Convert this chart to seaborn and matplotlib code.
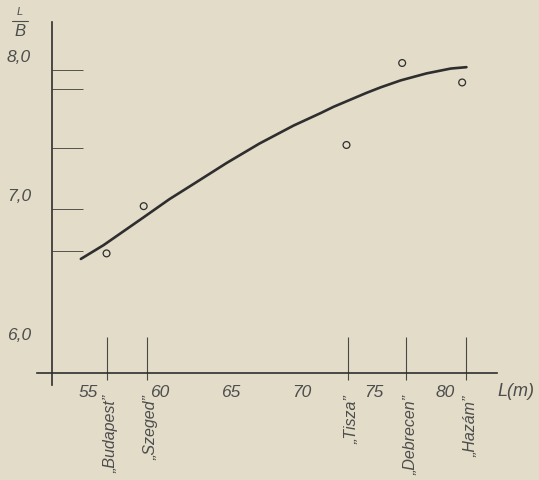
import matplotlib
matplotlib.use("Agg")
import matplotlib.pyplot as plt
import seaborn as sns
import pandas as pd

# ships (length L in m) and measured L/B ratios
ships = ["„Budapest”", "„Szeged”", "„Tisza”", "„Debrecen”", "„Hazám”"]
ship_len = [56.3, 59.1, 73.2, 77.3, 81.5]
point_len = [56.3, 58.9, 73.1, 77.0, 81.2]
point_ratio = [6.58, 6.92, 7.36, 7.95, 7.81]
ref_ratio = [6.60, 6.90, 7.34, 7.90, 7.76]

# fitted curve
curve_len = [54.5, 56.1, 58.9, 60.7, 62.4, 64.7, 67.0, 69.4, 71.3, 72.2,
             74.5, 75.5, 76.9, 78.7, 80.4, 81.5]
curve_ratio = [6.54, 6.64, 6.84, 6.97, 7.08, 7.23, 7.37, 7.50, 7.59, 7.635,
               7.735, 7.775, 7.825, 7.875, 7.91, 7.92]

x_ticks = [55, 60, 65, 70, 75, 80]
y_ticks = [6.0, 7.0, 8.0]
y_labels = ["6,0", "7,0", "8,0"]

paper = "#e2dcc9"
ink = "#2e2e2e"
txt = "#4d4d4d"

sns.set_style("white")
plt.rcParams["font.family"] = ["Liberation Sans", "DejaVu Sans"]

fig = plt.figure(figsize=(5.39, 4.80), dpi=100, facecolor=paper)
ax = fig.add_axes([37 / 539, 95 / 480, 460 / 539, 363 / 480])
ax.set_facecolor("none")

curve = pd.DataFrame({"L": curve_len, "LB": curve_ratio})
sns.lineplot(data=curve, x="L", y="LB", color=ink, linewidth=1.9,
             estimator=None, ax=ax)

pts = pd.DataFrame({"L": point_len, "LB": point_ratio})
sns.scatterplot(data=pts, x="L", y="LB", marker="o", s=24,
                facecolors="none", edgecolors=ink, linewidth=0.9, ax=ax)

# short reference strokes at the left axis and ship markers at the bottom
ax.hlines(ref_ratio, 52.48, 54.65, color=ink, linewidth=0.7, alpha=0.8)
ax.vlines(ship_len, 5.67, 5.98, color=ink, linewidth=0.8, alpha=0.85)

ax.set_xlim(51.43, 83.64)
ax.set_ylim(5.633, 8.245)
ax.spines["left"].set_position(("data", 52.48))
ax.spines["bottom"].set_position(("data", 5.72))
for s in ["top", "right"]:
    ax.spines[s].set_visible(False)
for s in ["left", "bottom"]:
    ax.spines[s].set_color(ink)
    ax.spines[s].set_linewidth(1.2)

ax.set_xticks(x_ticks)
ax.set_xticklabels([str(v) for v in x_ticks], fontstyle="italic",
                   fontsize=12.5, color=txt)
ax.set_yticks(y_ticks)
ax.set_yticklabels(y_labels, fontstyle="italic", fontsize=12.5, color=txt)
ax.tick_params(axis="x", direction="out", length=7, width=0.9,
               color=ink, pad=2)
ax.tick_params(axis="y", direction="out", length=5, width=0.9,
               color=ink, pad=10)
ax.set_xlabel("")
ax.set_ylabel("")

for name, L in zip(ships, ship_len):
    ax.annotate(name, xy=(L, 5.72), xytext=(3, -16),
                textcoords="offset points", rotation=90,
                ha="center", va="top", fontsize=11.5, fontstyle="italic",
                color=txt, annotation_clip=False)

fig.text(497 / 539, 1 - 392 / 480, "L(m)", ha="left", va="center",
         fontsize=13, fontstyle="italic", color=txt)

# L/B fraction label
fig.text(20 / 539, 1 - 12 / 480, "L", ha="center", va="center",
         fontsize=8, fontstyle="italic", color=txt)
fig.add_artist(plt.Line2D([12 / 539, 28 / 539], [1 - 21 / 480, 1 - 21 / 480],
                          color=txt, linewidth=0.8))
fig.text(20 / 539, 1 - 31 / 480, "B", ha="center", va="center",
         fontsize=12, fontstyle="italic", color=txt)

fig.savefig("out.png", dpi=100, facecolor=paper)
